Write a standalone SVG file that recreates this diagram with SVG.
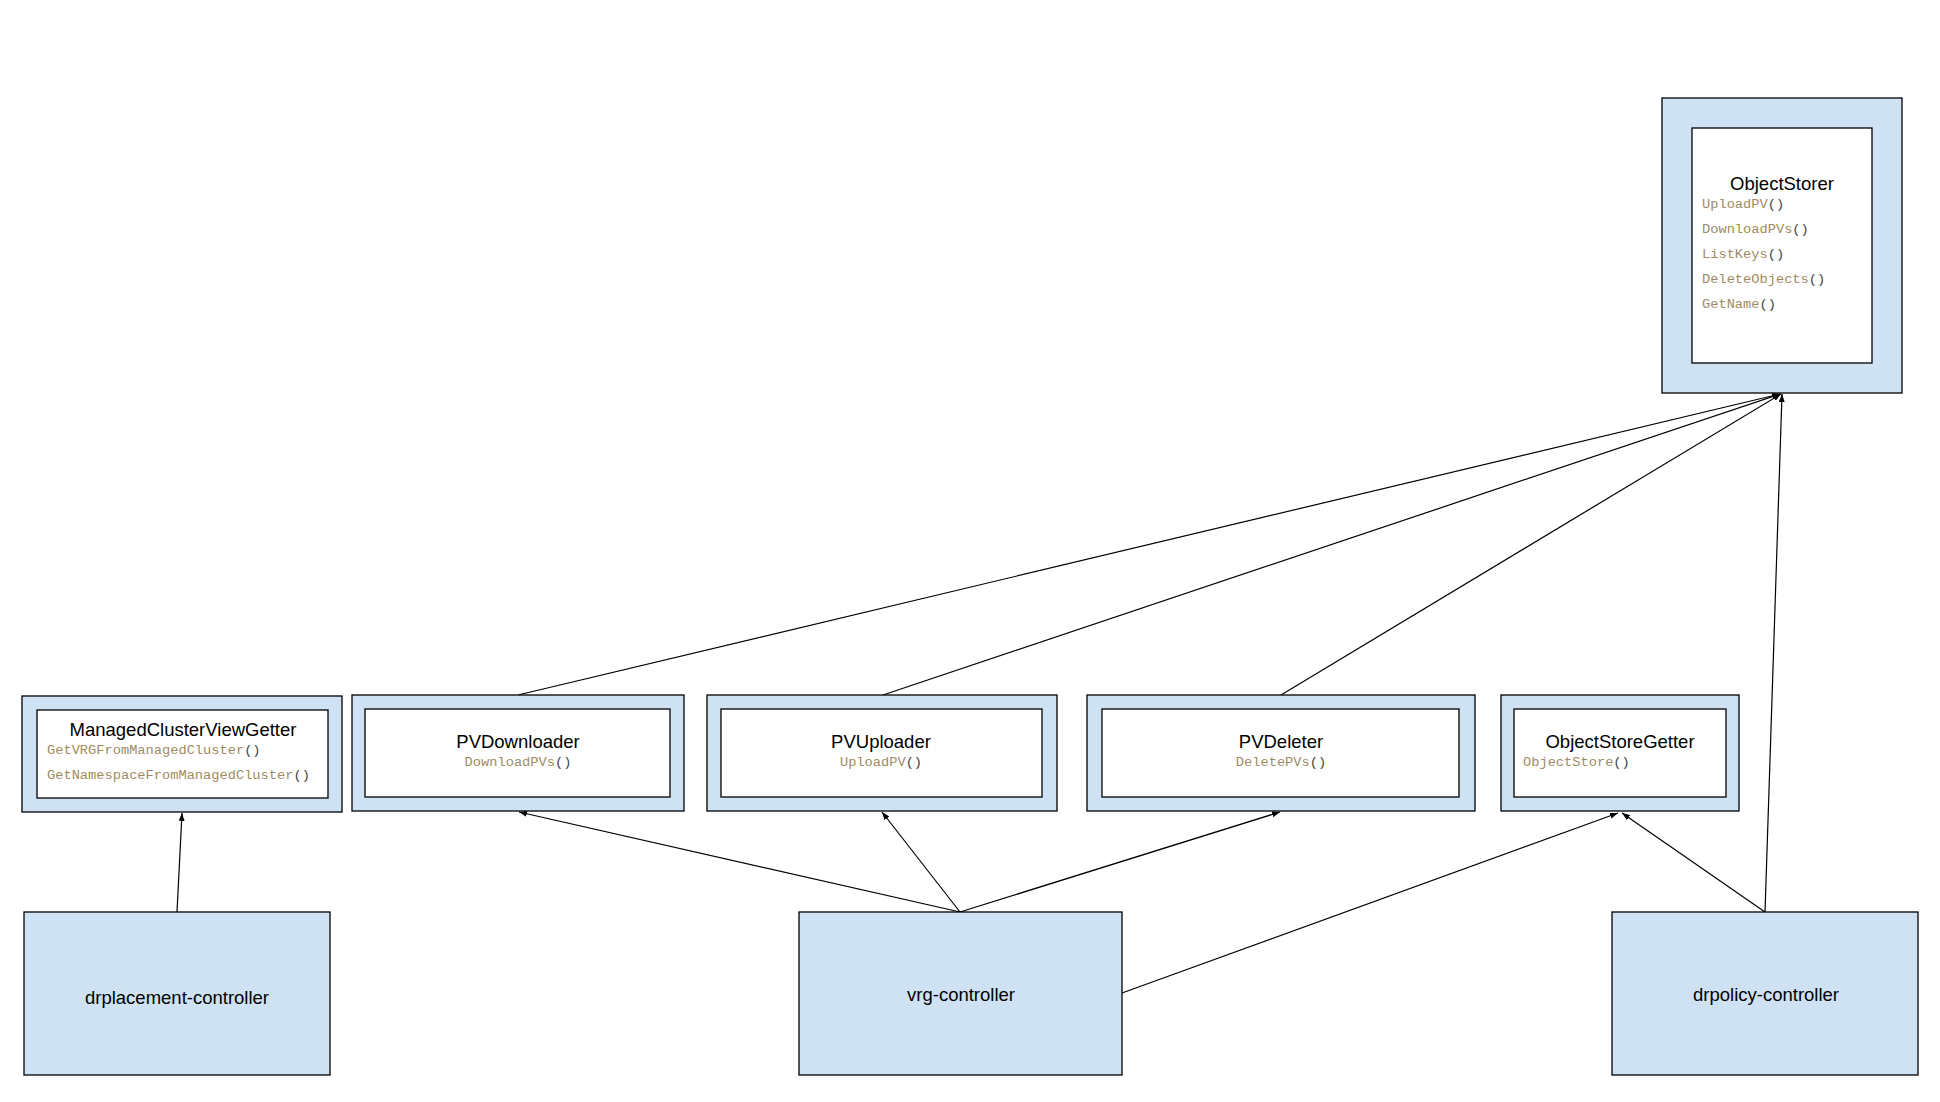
<svg xmlns="http://www.w3.org/2000/svg" width="1940" height="1102" viewBox="0 0 1940 1102">
<style>
.outer{fill:#cfe2f3;stroke:#000;stroke-width:1.3}
.inner{fill:#fff;stroke:#000;stroke-width:1.3}
.title{font-family:"Liberation Sans",Arial,sans-serif;font-size:18.5px;fill:#000}
.ctl{font-family:"Liberation Sans",Arial,sans-serif;font-size:18.5px;fill:#000;text-anchor:middle}
.m{font-family:"Liberation Mono","Courier New",monospace;font-size:13.7px;fill:#9e8b61}
.p{fill:#444}
.c line{stroke:#000;stroke-width:1.2;marker-end:url(#ah)}
</style>
<defs>
<marker id="ah" viewBox="0 0 8 6" refX="8" refY="3" markerWidth="8" markerHeight="6" markerUnits="userSpaceOnUse" orient="auto">
<path d="M0,0 L8,3 L0,6 Z" fill="#000"/>
</marker>
</defs>
<rect width="1940" height="1102" fill="#fff"/>
<g class="c" id="connectors">
<line x1="518" y1="695" x2="1780" y2="394"/>
<line x1="883" y1="695" x2="1780" y2="394"/>
<line x1="1281" y1="695" x2="1781" y2="394"/>
<line x1="1765" y1="912" x2="1782" y2="394"/>
<line x1="960" y1="912" x2="519" y2="812"/>
<line x1="960" y1="912" x2="882" y2="812"/>
<line x1="960" y1="912" x2="1280" y2="812"/>
<line x1="1122" y1="993" x2="1618" y2="813"/>
<line x1="1765" y1="912" x2="1622" y2="813"/>
<line x1="177" y1="912" x2="182" y2="813"/>
</g>
<g id="ObjectStorer">
<rect class="outer" x="1662" y="98" width="240" height="295"/>
<rect class="inner" x="1692" y="128" width="180" height="235"/>
<text class="title" x="1782" y="190" text-anchor="middle">ObjectStorer</text>
<text class="m" x="1702" y="208">UploadPV<tspan class="p">()</tspan></text>
<text class="m" x="1702" y="233">DownloadPVs<tspan class="p">()</tspan></text>
<text class="m" x="1702" y="258">ListKeys<tspan class="p">()</tspan></text>
<text class="m" x="1702" y="283">DeleteObjects<tspan class="p">()</tspan></text>
<text class="m" x="1702" y="308">GetName<tspan class="p">()</tspan></text>
</g>
<g id="ManagedClusterViewGetter">
<rect class="outer" x="22" y="696" width="320" height="116"/>
<rect class="inner" x="37" y="710" width="291" height="88"/>
<text class="title" x="183" y="736" text-anchor="middle">ManagedClusterViewGetter</text>
<text class="m" x="47" y="754">GetVRGFromManagedCluster<tspan class="p">()</tspan></text>
<text class="m" x="47" y="779">GetNamespaceFromManagedCluster<tspan class="p">()</tspan></text>
</g>
<g id="PVDownloader">
<rect class="outer" x="352" y="695" width="332" height="116"/>
<rect class="inner" x="365" y="709" width="305" height="88"/>
<text class="title" x="518" y="748" text-anchor="middle">PVDownloader</text>
<text class="m" x="518" y="766" text-anchor="middle">DownloadPVs<tspan class="p">()</tspan></text>
</g>
<g id="PVUploader">
<rect class="outer" x="707" y="695" width="350" height="116"/>
<rect class="inner" x="721" y="709" width="321" height="88"/>
<text class="title" x="881" y="748" text-anchor="middle">PVUploader</text>
<text class="m" x="881" y="766" text-anchor="middle">UploadPV<tspan class="p">()</tspan></text>
</g>
<g id="PVDeleter">
<rect class="outer" x="1087" y="695" width="388" height="116"/>
<rect class="inner" x="1102" y="709" width="357" height="88"/>
<text class="title" x="1281" y="748" text-anchor="middle">PVDeleter</text>
<text class="m" x="1281" y="766" text-anchor="middle">DeletePVs<tspan class="p">()</tspan></text>
</g>
<g id="ObjectStoreGetter">
<rect class="outer" x="1501" y="695" width="238" height="116"/>
<rect class="inner" x="1514" y="709" width="212" height="88"/>
<text class="title" x="1620" y="748" text-anchor="middle">ObjectStoreGetter</text>
<text class="m" x="1523" y="766">ObjectStore<tspan class="p">()</tspan></text>
</g>
<g id="drplacement-controller">
<rect class="outer" x="24" y="912" width="306" height="163"/>
<text class="ctl" x="177" y="1004">drplacement-controller</text>
</g>
<g id="vrg-controller">
<rect class="outer" x="799" y="912" width="323" height="163"/>
<text class="ctl" x="961" y="1001">vrg-controller</text>
</g>
<g id="drpolicy-controller">
<rect class="outer" x="1612" y="912" width="306" height="163"/>
<text class="ctl" x="1766" y="1001">drpolicy-controller</text>
</g>
</svg>
